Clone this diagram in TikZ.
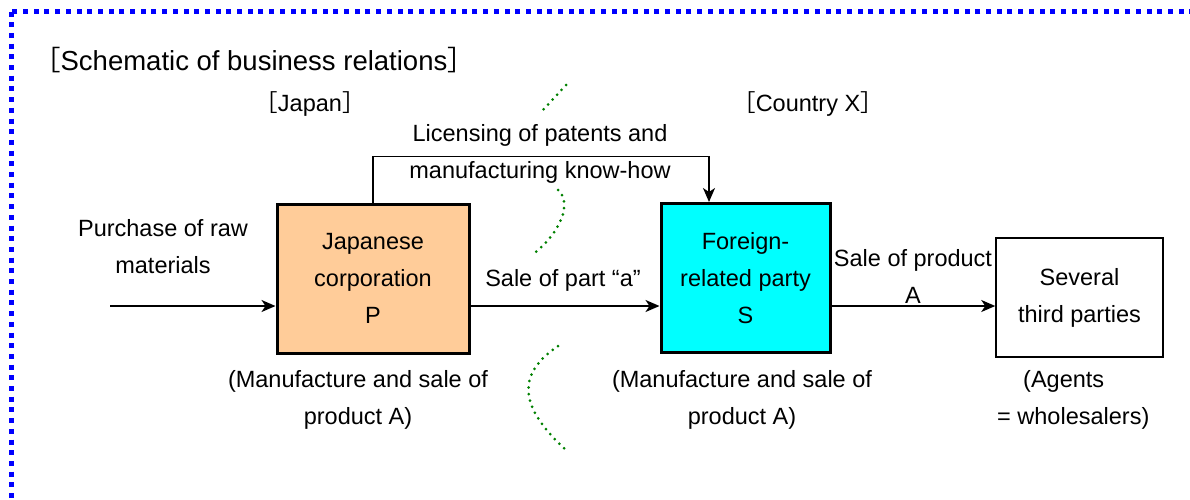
\documentclass[tikz,border=0pt]{standalone}
\usepackage{fontspec}
\setmainfont{Liberation Sans}
\newfontfamily\cjk{Noto Sans CJK JP}
\usetikzlibrary{arrows.meta}
\definecolor{boxorange}{HTML}{FFCC99}
\definecolor{boxcyan}{HTML}{00FFFF}
\definecolor{dotgreen}{HTML}{008000}
\begin{document}
\begin{tikzpicture}[x=1pt,y=-1pt,
  every node/.style={inner sep=0pt,font=\fontsize{23.5}{37}\selectfont},
  firm/.style={draw=black,line width=3pt,minimum width=#1,minimum height=149pt,align=center},
  arr/.style={draw=black,line width=1.8pt,-{Stealth[length=14pt,width=12pt,inset=4pt]}},
  border/.style={draw=blue,line width=5pt,dash pattern=on 5pt off 5.7pt},
  sep/.style={draw=dotgreen,line width=3pt,line cap=round,dash pattern=on 0pt off 6.6pt}]
\useasboundingbox (0,0) rectangle (1190,499);
\draw [border] (11.5,11.5) rectangle (1230,540);
\node [font=\fontsize{27.5}{33}\selectfont] at (254,60) {{\cjk［}Schematic of business relations{\cjk］}};
\node at (310,104) {{\cjk［}Japan{\cjk］}};
\node at (808,104) {{\cjk［}Country X{\cjk］}};
\draw [sep] (566,85) -- (543,110);
\draw [sep] (558,190) .. controls (572,202) and (562,232) .. (532,255);
\draw [sep] (558,346) .. controls (515,375) and (520,408) .. (566,450);
\node [firm=192pt,fill=boxorange] (P) at (373,278.5) {Japanese\\corporation\\P};
\node [firm=169pt,fill=boxcyan] (S) at (745.5,278) {Foreign-\\related party\\S};
\node [draw=black,line width=1.5pt,minimum width=167pt,minimum height=119pt,align=center] (T) at (1079.5,297.5) {Several\\third parties};
\coordinate (in) at (110,306);
\path (S.north) ++(-36.5,0) coordinate (Sin);
\draw [arr] (in) -- (in -| P.west);
\draw [arr] (P.east |- in) -- (S.west |- in);
\draw [arr] (S.east |- in) -- (T.west |- in);
\draw [arr] (P.north) -- ++(0,-46) -| (Sin);
\node [align=center] at (163,246.5) {Purchase of raw\\materials};
\node [align=center] at (540,154) {Licensing of patents and\\manufacturing know-how};
\node at (563,280) {Sale of part “a”};
\node [align=center] at (913,276.5) {Sale of product\\A};
\node [align=center] at (358,400) {(Manufacture and sale of\\product A)};
\node [align=center] at (742,400) {(Manufacture and sale of\\product A)};
\node [align=left,anchor=west] at (997,400) {\hspace*{26pt}(Agents\\= wholesalers)};
\end{tikzpicture}
\end{document}
